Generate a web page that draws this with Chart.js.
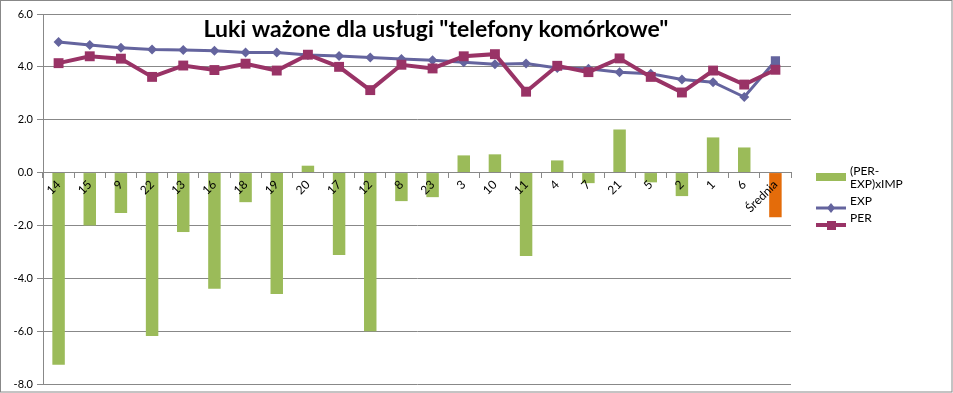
<!DOCTYPE html>
<html>
<head>
<meta charset="utf-8">
<script src="https://cdn.jsdelivr.net/npm/chart.js"></script>
<style>
  body { margin: 0; background: #fff; }
  canvas { display: block; }
</style>
</head>
<body>
<canvas id="lukiChart" width="953" height="393"></canvas>
<script>
// categories (numery atrybutów) + średnia
const categories = ['14', '15', '9', '22', '13', '16', '18', '19', '20', '17', '12', '8',
    '23', '3', '10', '11', '4', '7', '21', '5', '2', '1', '6', 'Średnia'];

// (PER-EXP)xIMP
const gapValues = [-7.27, -2.0, -1.53, -6.18, -2.25, -4.40, -1.12, -4.59, 0.26, -3.12, -6.0, -1.08,
    -0.93, 0.65, 0.69, -3.16, 0.46, -0.40, 1.63, -0.37, -0.89, 1.33, 0.95, -1.69];

// oczekiwania
const expValues = [4.94, 4.83, 4.72, 4.66, 4.64, 4.61, 4.54, 4.54, 4.45, 4.41, 4.35, 4.30,
    4.25, 4.17, 4.10, 4.13, 3.96, 3.93, 3.80, 3.74, 3.52, 3.42, 2.86, 4.23];

// percepcja
const perValues = [4.14, 4.40, 4.31, 3.62, 4.05, 3.88, 4.12, 3.86, 4.46, 4.00, 3.12, 4.08,
    3.94, 4.40, 4.48, 3.06, 4.04, 3.80, 4.32, 3.62, 3.03, 3.86, 3.33, 3.89];

const yTicks = [-8, -6, -4, -2, 0, 2, 4, 6];

const GREEN = '#9BBB59', ORANGE = '#E46C0A', EXPC = '#64649E', PERC = '#993366';
const FONT = 'Lato, "DejaVu Sans", sans-serif';

const barColors = categories.map(c => c === 'Średnia' ? ORANGE : GREEN);
const expStyles = categories.map(c => c === 'Średnia' ? 'rect' : 'rectRot');
const expRadius = categories.map(c => c === 'Średnia' ? 6.5 : 5);

// ramka, tytuł i legenda
const decorPlugin = {
    id: 'decor',
    beforeDraw(chart) {
        const c = chart.ctx;
        c.save();
        c.fillStyle = '#fff';
        c.fillRect(0, 0, chart.width, chart.height);
        c.strokeStyle = '#888';
        c.lineWidth = 1;
        c.strokeRect(0.5, 0.5, chart.width - 1.5, chart.height - 1.5);
        c.restore();
    },
    afterDraw(chart) {
        const c = chart.ctx;
        c.save();
        c.fillStyle = '#000';
        c.font = 'bold 23px ' + FONT;
        c.textAlign = 'center';
        c.textBaseline = 'middle';
        c.fillText('Luki ważone dla usługi "telefony komórkowe"', 436, 30);

        // legend
        c.font = '12px ' + FONT;
        c.textAlign = 'left';
        c.fillStyle = GREEN;
        c.fillRect(816, 173, 30, 8);
        c.fillStyle = '#000';
        c.fillText('(PER-', 850, 171);
        c.fillText('EXP)xIMP', 850, 184);

        c.strokeStyle = EXPC;
        c.lineWidth = 3;
        c.beginPath(); c.moveTo(816, 208); c.lineTo(846, 208); c.stroke();
        c.fillStyle = EXPC;
        c.beginPath();
        c.moveTo(831, 203); c.lineTo(835, 208); c.lineTo(831, 213); c.lineTo(827, 208);
        c.closePath(); c.fill();
        c.fillStyle = '#000';
        c.fillText('EXP', 850, 201);

        c.strokeStyle = PERC;
        c.lineWidth = 4;
        c.beginPath(); c.moveTo(816, 225); c.lineTo(846, 225); c.stroke();
        c.fillStyle = PERC;
        c.fillRect(827, 221, 9, 9);
        c.fillStyle = '#000';
        c.fillText('PER', 850, 218);
        c.restore();
    }
};

const ctx = document.getElementById('lukiChart').getContext('2d');

const lukiChart = new Chart(ctx, {
    type: 'bar',
    data: {
        labels: categories,
        datasets: [
            {
                type: 'line',
                label: 'PER',
                data: perValues,
                borderColor: PERC,
                backgroundColor: PERC,
                borderWidth: 4,
                pointStyle: 'rect',
                pointRadius: 7,
                pointBorderWidth: 0,
                tension: 0,
                order: 0
            },
            {
                type: 'line',
                label: 'EXP',
                data: expValues,
                borderColor: EXPC,
                backgroundColor: EXPC,
                borderWidth: 3,
                pointStyle: expStyles,
                pointRadius: expRadius,
                pointBorderWidth: 0,
                tension: 0,
                order: 1
            },
            {
                label: '(PER-EXP)xIMP',
                data: gapValues,
                backgroundColor: barColors,
                barPercentage: 0.4,
                categoryPercentage: 1.0,
                order: 2
            }
        ]
    },
    options: {
        responsive: false,
        animation: false,
        layout: { padding: { left: 0, right: 162, top: 14, bottom: 9 } },
        plugins: {
            legend: { display: false },
            title: { display: false },
            tooltip: { enabled: false }
        },
        scales: {
            x: {
                position: { y: 0 },
                grid: {
                    display: true,
                    offset: true,
                    drawOnChartArea: false,
                    drawTicks: true,
                    tickLength: 5,
                    color: '#888',
                    z: 1
                },
                border: { display: true, color: '#888', width: 1, z: 1 },
                ticks: {
                    autoSkip: false,
                    minRotation: 45,
                    maxRotation: 45,
                    padding: 0,
                    color: '#000',
                    font: { family: FONT, size: 12 },
                    z: 1
                }
            },
            y: {
                min: -8,
                max: 6,
                afterBuildTicks(scale) {
                    scale.ticks = yTicks.map(v => ({ value: v }));
                },
                afterFit(scale) {
                    scale.width = 43;
                    scale.paddingTop = 0;
                    scale.paddingBottom = 0;
                },
                grid: {
                    color: '#888',
                    tickLength: 6,
                    drawTicks: true
                },
                border: { display: true, color: '#888', width: 1 },
                ticks: {
                    padding: 4,
                    color: '#000',
                    font: { family: FONT, size: 11 },
                    callback: v => v.toFixed(1)
                }
            }
        }
    },
    plugins: [decorPlugin]
});
</script>
</body>
</html>
